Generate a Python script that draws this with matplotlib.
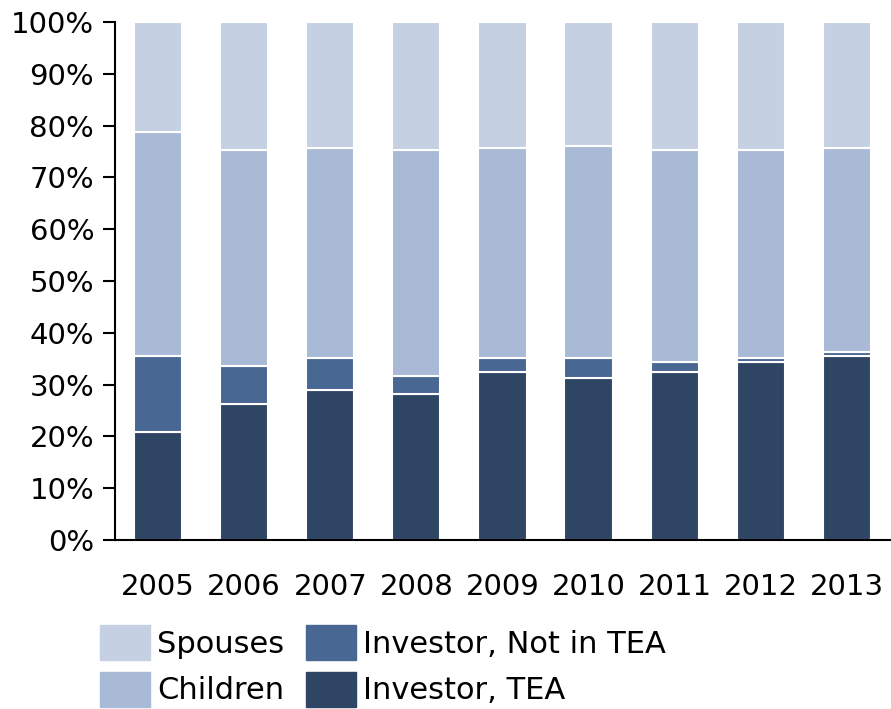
import matplotlib
matplotlib.use("Agg")
import matplotlib.pyplot as plt
from matplotlib.patches import Patch

years = ["2005", "2006", "2007", "2008", "2009", "2010", "2011", "2012", "2013"]
investor_tea = [20.8, 26.3, 29.0, 28.2, 32.4, 31.3, 32.4, 34.4, 35.5]
investor_not_tea = [14.7, 7.3, 6.1, 3.5, 2.7, 3.8, 2.0, 0.7, 0.8]
children = [43.3, 41.7, 40.6, 43.6, 40.6, 41.0, 40.9, 40.2, 39.4]
spouses = [100 - a - b - c for a, b, c in zip(investor_tea, investor_not_tea, children)]

c_tea = "#2f4564"
c_nit = "#486792"
c_child = "#a9bad6"
c_spouse = "#c5d0e3"

plt.rcParams['font.family'] = ['DejaVu Sans']
FS = 21
LFS = 22

fig = plt.figure(figsize=(8.91, 7.09), dpi=100)
ax = fig.add_axes([115/891, (709-540)/709, (890-115)/891, (540-22)/709])

x = list(range(len(years)))
w = 0.56
ec = "white"
lw = 1.5
ax.bar(x, investor_tea, w, color=c_tea, edgecolor=ec, linewidth=lw)
b2 = investor_tea
ax.bar(x, investor_not_tea, w, bottom=b2, color=c_nit, edgecolor=ec, linewidth=lw)
b3 = [a+b for a, b in zip(investor_tea, investor_not_tea)]
ax.bar(x, children, w, bottom=b3, color=c_child, edgecolor=ec, linewidth=lw)
b4 = [a+b for a, b in zip(b3, children)]
ax.bar(x, spouses, w, bottom=b4, color=c_spouse, edgecolor=ec, linewidth=lw)

ax.set_xlim(-0.5, len(years)-0.5)
ax.set_ylim(0, 100)
ax.set_yticks(range(0, 101, 10))
ax.set_yticklabels([f"{v}%" for v in range(0, 101, 10)], fontsize=FS)
ax.set_xticks(x)
ax.set_xticklabels(years, fontsize=FS)
ax.tick_params(axis='x', length=0, pad=24)
ax.tick_params(axis='y', length=9, width=1.5, direction='out', pad=6)
for s in ['top', 'right']:
    ax.spines[s].set_visible(False)
ax.spines['left'].set_linewidth(1.5)
ax.spines['bottom'].set_linewidth(1.5)

handles = [Patch(color=c_spouse), Patch(color=c_child), Patch(color=c_nit), Patch(color=c_tea)]
labels = ["Spouses", "Children", "Investor, Not in TEA", "Investor, TEA"]
fig.legend(handles, labels, ncol=2, loc='upper left', bbox_to_anchor=(100/891, 1 - 625/709),
           frameon=False, fontsize=LFS, handlelength=1.64, handleheight=1.385,
           handletextpad=0.23, columnspacing=0.72, labelspacing=0.38, borderpad=0,
           borderaxespad=0)

fig.savefig("out.png", dpi=100)
